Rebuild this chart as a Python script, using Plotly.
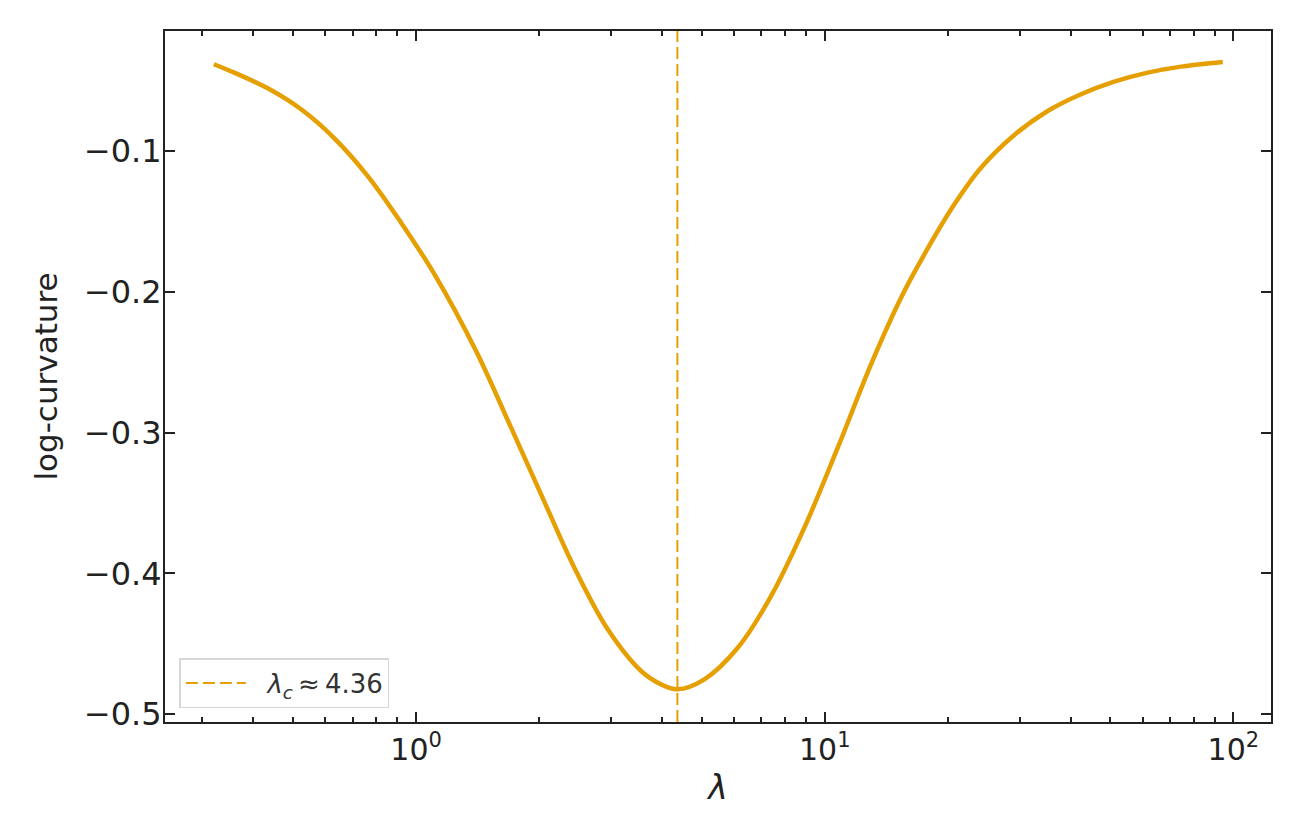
import plotly.graph_objects as go


# curve (lambda on a log axis)
LAMBDA = [
    0.3199, 0.3592, 0.4336, 0.5232, 0.6311, 0.7616, 0.9190, 1.1086,
    1.402, 1.708, 2.0223, 2.4396, 2.9444, 3.5532, 3.9763, 4.36,
    5.0756, 6.1252, 7.3892, 8.9153, 10.760, 12.98, 15.37, 17.53,
    20.76, 24.12, 29.10, 35.12, 42.38, 51.11, 61.70, 74.43, 94.15,
]
LOG_CURVATURE = [
    -0.0384, -0.0444, -0.0555, -0.0704, -0.0910, -0.1178, -0.1509, -0.1874,
    -0.2420, -0.2965, -0.3438, -0.3960, -0.4397, -0.4693, -0.4788,
    -0.4823, -0.4752, -0.4528, -0.4161, -0.3675, -0.3107, -0.2515,
    -0.2042, -0.1734, -0.1379, -0.1119, -0.0886, -0.0716, -0.0597, -0.0508,
    -0.0444, -0.0401, -0.0368,
]
LAMBDA_C = 4.36

X_RANGE = [-0.6144, 2.0920]  # log10 of the axis limits
Y_RANGE = [-0.5055, -0.0148]

X_TICKS = [1, 10, 100]
X_TICK_TEXT = ["10<sup>0</sup>", "10<sup>1</sup>", "10<sup>2</sup>"]
X_MINOR = [0.3, 0.4, 0.5, 0.6, 0.7, 0.8, 0.9,
           2, 3, 4, 5, 6, 7, 8, 9,
           20, 30, 40, 50, 60, 70, 80, 90]
Y_TICKS = [-0.5, -0.4, -0.3, -0.2, -0.1]
Y_TICK_TEXT = ["\u22120.5", "\u22120.4", "\u22120.3", "\u22120.2", "\u22120.1"]

ORANGE = "#E69F00"
INK = "#222222"
FONT = "DejaVu Sans"


def build_figure():
    fig = go.Figure()

    fig.add_trace(go.Scatter(
        x=LAMBDA,
        y=LOG_CURVATURE,
        mode="lines",
        line=dict(color=ORANGE, width=4.5, shape="spline", smoothing=1.0),
        showlegend=False,
        hoverinfo="x+y",
    ))

    fig.add_trace(go.Scatter(
        x=[LAMBDA_C, LAMBDA_C],
        y=Y_RANGE,
        mode="lines",
        line=dict(color=ORANGE, width=2, dash="12px,5px"),
        name=f"\u00a0\u00a0<i>λ</i><sub><i>c</i></sub>\u2009≈\u2009{LAMBDA_C:.2f}",
    ))

    axis_common = dict(
        showline=True,
        linecolor=INK,
        linewidth=2,
        mirror="ticks",
        ticks="inside",
        tickcolor=INK,
        tickwidth=2,
        ticklen=10,
        showgrid=False,
        zeroline=False,
    )

    fig.update_xaxes(
        type="log",
        range=X_RANGE,
        tickvals=X_TICKS,
        ticktext=X_TICK_TEXT,
        tickfont=dict(family=FONT, size=30, color=INK),
        minor=dict(tickvals=X_MINOR, ticks="inside", ticklen=5,
                   tickwidth=1.5, tickcolor=INK, showgrid=False),
        title=dict(text="<i>λ</i>", font=dict(family=FONT, size=33, color=INK),
                   standoff=10),
        **axis_common,
    )
    fig.update_yaxes(
        range=Y_RANGE,
        tickvals=Y_TICKS,
        ticktext=Y_TICK_TEXT,
        tickfont=dict(family=FONT, size=32, color=INK),
        ticklabelstandoff=-5,
        title=dict(text="log-curvature", font=dict(family=FONT, size=31, color=INK),
                   standoff=17),
        **axis_common,
    )

    fig.update_layout(
        width=1290,
        height=830,
        margin=dict(l=157, r=27, t=23, b=116),
        plot_bgcolor="white",
        paper_bgcolor="white",
        font=dict(family=FONT, color=INK),
        legend=dict(
            x=0.013,
            y=0.02,
            xanchor="left",
            yanchor="bottom",
            itemwidth=60,
            bgcolor="rgba(255,255,255,0.85)",
            bordercolor="#d6d6d6",
            borderwidth=1.5,
            font=dict(family=FONT, size=26, color="#333333"),
        ),
    )
    return fig


def main():
    fig = build_figure()
    fig.write_html("out.html")


if __name__ == "__main__":
    main()
